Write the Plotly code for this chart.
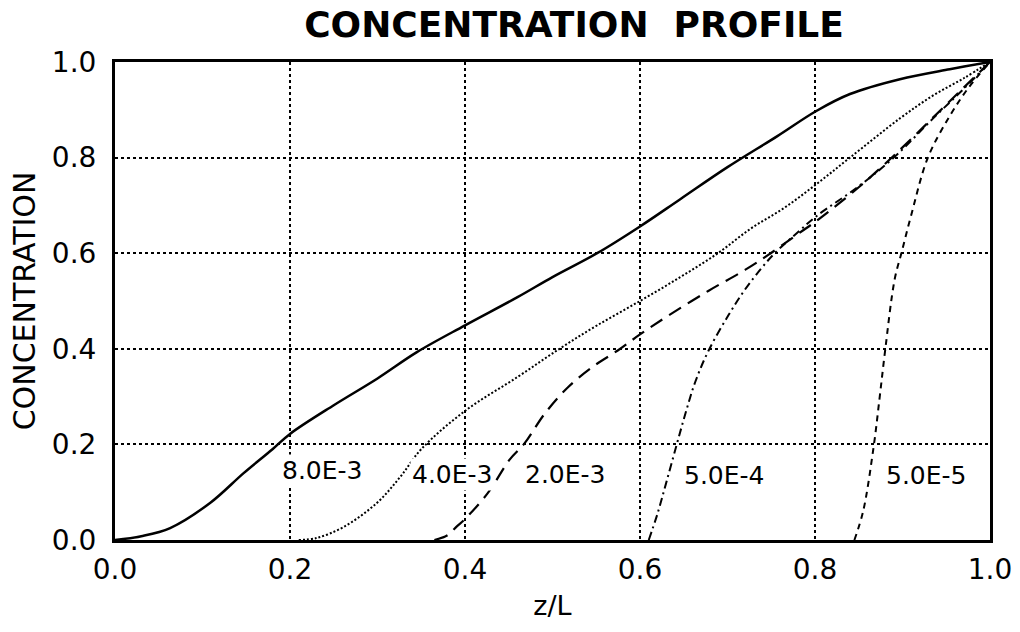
import plotly.graph_objects as go

# ---- data ----
z_8e3 = [0.0, 0.03, 0.063, 0.109, 0.147, 0.18, 0.20, 0.25, 0.30, 0.345, 0.40, 0.46, 0.50, 0.551, 0.60, 0.646, 0.70, 0.757, 0.801, 0.84, 0.897, 0.954, 1.0]
c_8e3 = [0.0, 0.008, 0.025, 0.078, 0.14, 0.19, 0.222, 0.282, 0.338, 0.393, 0.449, 0.508, 0.55, 0.60, 0.656, 0.713, 0.78, 0.845, 0.897, 0.933, 0.964, 0.985, 1.0]

z_4e3 = [0.21, 0.23, 0.261, 0.299, 0.326, 0.35, 0.40, 0.46, 0.508, 0.55, 0.60, 0.646, 0.689, 0.727, 0.765, 0.802, 0.84, 0.897, 0.935, 0.97, 1.0]
c_4e3 = [0.0, 0.004, 0.027, 0.077, 0.132, 0.19, 0.27, 0.341, 0.40, 0.448, 0.50, 0.55, 0.60, 0.652, 0.695, 0.745, 0.80, 0.882, 0.93, 0.966, 1.0]

z_2e3 = [0.365, 0.38, 0.391, 0.399, 0.426, 0.451, 0.468, 0.491, 0.518, 0.548, 0.575, 0.60, 0.632, 0.678, 0.72, 0.747, 0.781, 0.802, 0.85, 0.89, 0.954, 1.0]
c_2e3 = [0.0, 0.01, 0.029, 0.042, 0.098, 0.168, 0.202, 0.264, 0.32, 0.365, 0.397, 0.43, 0.469, 0.521, 0.565, 0.597, 0.641, 0.668, 0.738, 0.804, 0.918, 1.0]

z_5e4 = [0.61, 0.62, 0.63, 0.642, 0.652, 0.663, 0.678, 0.701, 0.72, 0.739, 0.754, 0.781, 0.802, 0.85, 0.89, 0.935, 0.97, 1.0]
c_5e4 = [0.0, 0.055, 0.12, 0.20, 0.265, 0.33, 0.395, 0.47, 0.524, 0.569, 0.60, 0.645, 0.678, 0.74, 0.80, 0.882, 0.944, 1.0]

z_5e5 = [0.845, 0.855, 0.867, 0.874, 0.88, 0.891, 0.899, 0.91, 0.929, 0.954, 0.975, 1.0]
c_5e5 = [0.0, 0.06, 0.195, 0.30, 0.394, 0.545, 0.602, 0.68, 0.80, 0.887, 0.945, 1.0]

labels = ["8.0E-3", "4.0E-3", "2.0E-3", "5.0E-4", "5.0E-5"]
label_x = [0.236, 0.385, 0.514, 0.696, 0.927]
label_y = [0.145, 0.136, 0.136, 0.134, 0.134]

tick_vals = [0.0, 0.2, 0.4, 0.6, 0.8, 1.0]
tick_text = ["0.0", "0.2", "0.4", "0.6", "0.8", "1.0"]

series = [
    (z_8e3, c_8e3, "solid", 2.5),
    (z_4e3, c_4e3, "2px,2px", 2.0),
    (z_2e3, c_2e3, "14px,8px", 2.2),
    (z_5e4, c_5e4, "8px,4px,2px,4px", 2.0),
    (z_5e5, c_5e5, "6px,5px", 2.0),
]

FONT = "DejaVu Sans"

fig = go.Figure()
for zs, cs, dash, w in series:
    fig.add_trace(go.Scatter(
        x=zs, y=cs, mode="lines",
        line=dict(color="black", width=w, dash=dash, shape="spline", smoothing=1.0),
        showlegend=False, hoverinfo="skip",
    ))

for t, lx, ly in zip(labels, label_x, label_y):
    fig.add_annotation(x=lx, y=ly, xref="x", yref="y", text=t, showarrow=False,
                       font=dict(family=FONT, size=25, color="black"),
                       bgcolor="white", borderpad=1)

axis_common = dict(
    range=[0, 1], showline=True, mirror=True, linecolor="black", linewidth=3,
    showgrid=True, gridcolor="black", gridwidth=1.6, griddash="dot",
    zeroline=False, ticks="", tickvals=tick_vals, ticktext=tick_text,
    tickfont=dict(family=FONT, size=28, color="black"),
)

fig.update_xaxes(**axis_common, ticklabelstandoff=2,
                 title=dict(text="z/L", font=dict(family=FONT, size=27, color="black"), standoff=12))
fig.update_yaxes(**axis_common, ticklabelstandoff=10,
                 title=dict(text="CONCENTRATION", font=dict(family=FONT, size=30, color="black"), standoff=8))

fig.update_layout(
    width=1020, height=632,
    margin=dict(l=115, r=30, t=62, b=92, autoexpand=False),
    paper_bgcolor="white", plot_bgcolor="white",
    title=dict(text="<b>CONCENTRATION\u00a0\u00a0PROFILE</b>", x=574/1020, xanchor="center",
               y=1 - 24/632, yanchor="middle", yref="container",
               font=dict(family=FONT, size=36, color="black")),
)

fig.write_html("out.html")
